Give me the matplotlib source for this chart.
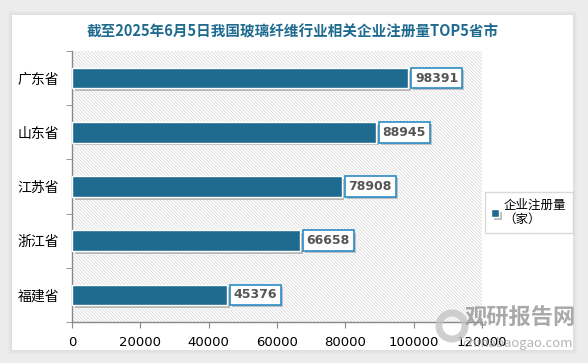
import matplotlib.pyplot as plt
import matplotlib.patheffects as pe
from matplotlib.patches import Rectangle

plt.rcParams['font.family'] = ['Noto Sans CJK SC', 'DejaVu Sans']
plt.rcParams['hatch.linewidth'] = 0.6

# data
provinces = ['广东省', '山东省', '江苏省', '浙江省', '福建省']
counts = [98391, 88945, 78908, 66658, 45376]
x_ticks = [0, 20000, 40000, 60000, 80000, 100000, 120000]
title = '截至2025年6月5日我国玻璃纤维行业相关企业注册量TOP5省市'
legend_label = '企业注册量\n（家）'

bar_color = '#1e6b8f'
W, H = 588, 363

fig = plt.figure(figsize=(W / 100, H / 100), dpi=100)
fig.patch.set_facecolor('#ececec')

# white card with soft shadow
bg = fig.add_axes([0, 0, 1, 1], zorder=-10)
bg.set_xlim(0, W)
bg.set_ylim(H, 0)
bg.axis('off')
for d in [4, 3, 2, 1]:
    bg.add_patch(Rectangle((12 - d, 15 - d), 561 + 2 * d, 335 + 2 * d,
                           facecolor='#b0b0b0', alpha=0.05, edgecolor='none'))
bg.add_patch(Rectangle((12, 15), 561, 335, facecolor='white', edgecolor='none'))

# plot area: x 72..482, y 51..322
ax = fig.add_axes([72 / W, 1 - 322 / H, 410 / W, 271 / H])
ax.set_facecolor('white')
ax.add_patch(Rectangle((0, 0), 1, 1, transform=ax.transAxes, facecolor='white',
                       edgecolor='#dadada', linewidth=0, hatch='\\' * 10, zorder=0))

ypos = list(range(len(provinces)))
bars = ax.barh(ypos, counts, height=0.38, color=bar_color, edgecolor='white',
               linewidth=1.0, zorder=3, label=legend_label)
for b in bars:
    b.set_path_effects([pe.SimplePatchShadow(offset=(2, -2), shadow_rgbFace='#808080', alpha=0.5),
                        pe.Normal()])

for y, v in zip(ypos, counts):
    t = ax.text(v + 2000, y, str(v), fontsize=9, fontweight='bold', color='#555555',
                ha='left', va='center', zorder=5, family='DejaVu Sans',
                bbox=dict(boxstyle='square,pad=0.3', facecolor='white',
                          edgecolor='#2a8cc4', linewidth=1.2))
    t.get_bbox_patch().set_path_effects([
        pe.SimplePatchShadow(offset=(1.5, -1.5), shadow_rgbFace='#909090', alpha=0.5),
        pe.Normal()])

ax.set_xlim(0, 120000)
ax.set_ylim(len(provinces) - 0.5, -0.5)
ax.set_xticks(x_ticks)
ax.set_xticklabels([str(t) for t in x_ticks], fontsize=9.5, family='DejaVu Sans')
ax.set_yticks(ypos)
ax.set_yticklabels(provinces, fontsize=10)
ax.set_yticks([i - 0.5 for i in range(len(provinces) + 1)], minor=True)
ax.tick_params(axis='y', which='major', length=0, pad=9)
ax.tick_params(axis='y', which='minor', length=4, color='#888888')
ax.tick_params(axis='x', length=4, color='#888888', pad=6)
for s in ['top', 'right']:
    ax.spines[s].set_visible(False)
for s in ['left', 'bottom']:
    ax.spines[s].set_color('#888888')
    ax.spines[s].set_linewidth(1.0)

fig.text(293 / W, 1 - 31 / H, title, fontsize=10.5, fontweight='bold',
         color='#1e6b8f', ha='center', va='center')

leg = fig.legend(handles=[bars], labels=[legend_label], loc='upper left',
                 bbox_to_anchor=(485 / W, 1 - 192 / H), fontsize=9,
                 frameon=True, fancybox=False, edgecolor='#d0d0d0',
                 handlelength=0.6, handleheight=0.6, handletextpad=0.4,
                 borderpad=0.5, borderaxespad=0)
leg.get_frame().set_linewidth(1.0)

# watermark on top
wm = fig.add_axes([0, 0, 1, 1], zorder=20)
wm.set_xlim(0, W)
wm.set_ylim(H, 0)
wm.axis('off')
wm.add_patch(plt.Circle((452, 326), 13, facecolor='none', edgecolor='#c4c4c4',
                        lw=5, alpha=0.8))
wm.text(520, 318, '观研报告网', fontsize=16, fontweight='bold', color='#9a9a9a',
        ha='center', va='center', alpha=0.85)
wm.text(518, 344, 'chinabaogao.com', fontsize=9.5, color='#a8a8a8',
        ha='center', va='center', alpha=0.85)

fig.savefig('out.png', dpi=100)
